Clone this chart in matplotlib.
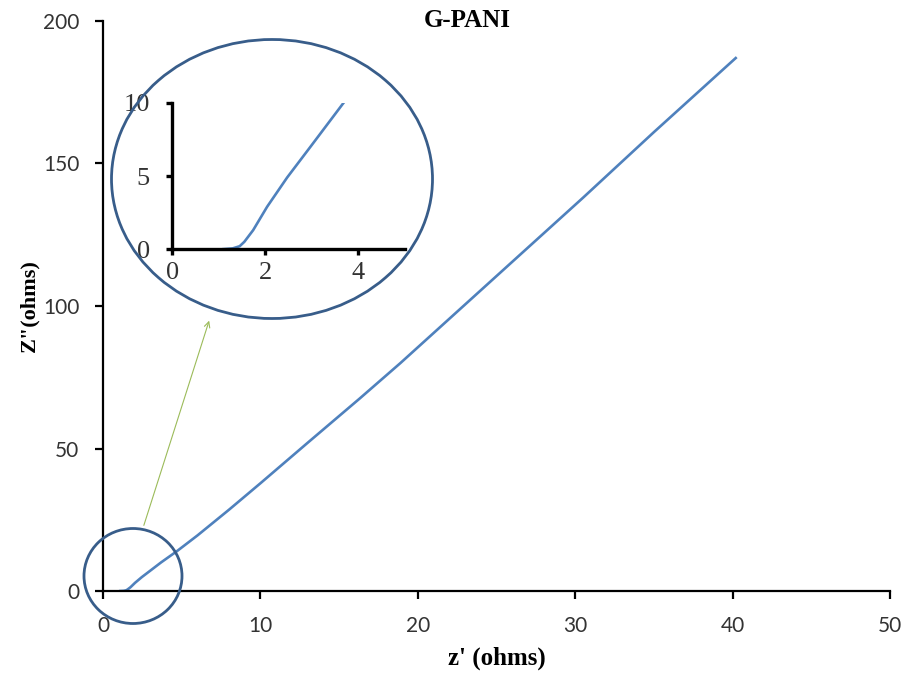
import matplotlib.pyplot as plt
from matplotlib.patches import Ellipse

# impedance data (z' vs Z'')
z_real = [1.1, 1.3, 1.45, 1.55, 1.74, 2.04, 2.47, 2.97, 3.68, 4.7, 6.0, 8.0, 10.0, 13.0,
          16.3, 18.9, 22.0, 26.0, 30.5, 35.0, 40.2]
z_imag = [0.0, 0.05, 0.2, 0.5, 1.3, 2.9, 4.9, 7.0, 10.0, 14.0, 19.5, 28.5, 37.8, 52.0,
          67.5, 80.0, 95.5, 115.5, 138.0, 161.0, 187.0]

main_xticks = [0, 10, 20, 30, 40, 50]
main_yticks = [0, 50, 100, 150, 200]
inset_xticks = [0, 2, 4]
inset_yticks = [0, 5, 10]

line_color = '#4F81BD'
ring_color = '#385D8A'

fig = plt.figure(figsize=(9.06, 6.77), dpi=100)
ax = fig.add_axes([0.1137, 0.127, 0.8686, 0.842])
ax.plot(z_real, z_imag, color=line_color, lw=1.9)
ax.set_xlim(0, 50)
ax.set_ylim(0, 200)
ax.set_xticks(main_xticks)
ax.set_yticks(main_yticks)
for s in ['top', 'right']:
    ax.spines[s].set_visible(False)
for s in ['left', 'bottom']:
    ax.spines[s].set_linewidth(1.6)
ax.tick_params(direction='out', length=6, width=1.6, labelsize=15)
ax.tick_params(axis='x', pad=12)
ax.tick_params(axis='y', pad=11)
for lab in ax.get_xticklabels() + ax.get_yticklabels():
    lab.set_family('Lato')
    lab.set_color('#333333')
ax.set_xlabel("z' (ohms)", fontsize=18, fontweight='bold', family='Liberation Serif')
ax.xaxis.set_label_coords(0.5, -0.098)
ax.set_ylabel('Z"(ohms)', fontsize=16, fontweight='bold', family='Liberation Serif')
ax.yaxis.set_label_coords(-0.081, 0.5)
fig.text(0.516, 0.970, 'G-PANI', ha='center', va='center', fontsize=18,
         fontweight='bold', family='Liberation Serif')

# zoomed inset
ins = fig.add_axes([0.190, 0.632, 0.257, 0.216])
ins.plot(z_real, z_imag, color=line_color, lw=1.9)
ins.set_xlim(0, 5)
ins.set_ylim(0, 10)
ins.set_xticks(inset_xticks)
ins.set_yticks(inset_yticks)
for s in ['top', 'right']:
    ins.spines[s].set_visible(False)
for s in ['left', 'bottom']:
    ins.spines[s].set_linewidth(2.4)
ins.tick_params(direction='out', length=4, width=2.4, labelsize=19)
ins.tick_params(axis='x', pad=5)
ins.tick_params(axis='y', pad=12)
for lab in ins.get_xticklabels() + ins.get_yticklabels():
    lab.set_family('Liberation Serif')
    lab.set_color('#333333')
ins.patch.set_alpha(0)

# rings and arrow
fig.add_artist(Ellipse((2.72, 4.98), 3.21, 2.79, transform=fig.dpi_scale_trans,
                       fill=False, ec=ring_color, lw=2.0))
fig.add_artist(Ellipse((1.33, 1.01), 0.98, 0.95, transform=fig.dpi_scale_trans,
                       fill=False, ec=ring_color, lw=2.0))
ax.annotate('', xy=(210, 359), xycoords='figure pixels',
            xytext=(143, 149), textcoords='figure pixels',
            arrowprops=dict(arrowstyle='->', color='#9BBB59', lw=0.8))

fig.savefig('out.png', dpi=100)
